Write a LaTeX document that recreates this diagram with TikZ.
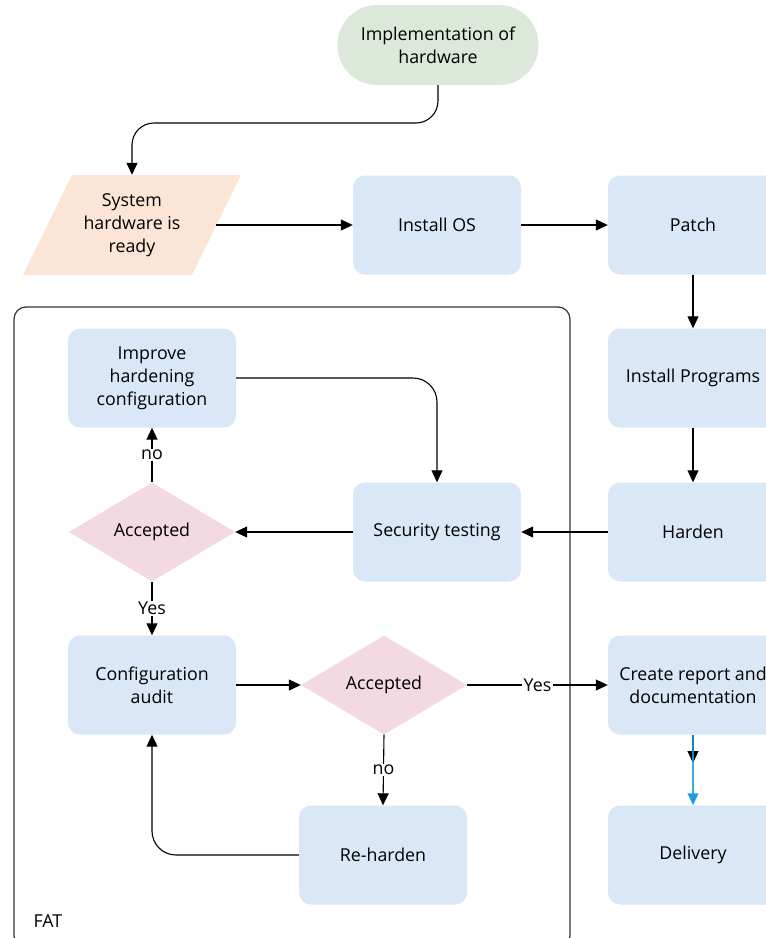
\documentclass[tikz,border=0pt]{standalone}
\usepackage{fontspec}
\setmainfont{Open Sans}
\usetikzlibrary{shapes.geometric,arrows.meta,calc}

\definecolor{boxblue}{HTML}{DAE7F6}
\definecolor{decpink}{HTML}{F3D9E1}
\definecolor{inpeach}{HTML}{FBE5D6}
\definecolor{termgreen}{HTML}{DCE8DA}
\definecolor{flowblue}{HTML}{1E9BE0}
\definecolor{framegray}{HTML}{333333}

\begin{document}
\begin{tikzpicture}[x=1pt,y=-1pt,
  every node/.style={font=\fontsize{17.8}{23}\selectfont, text=black},
  proc/.style={fill=boxblue, rounded corners=12pt, minimum width=168pt,
    minimum height=99pt, align=center, inner sep=0pt},
  wideproc/.style={proc, minimum width=170pt},
  decision/.style={diamond, fill=decpink, minimum width=166pt,
    minimum height=99pt, inner sep=0pt},
  terminal/.style={fill=termgreen, rounded corners=39.5pt, minimum width=201pt,
    minimum height=80pt, align=center, inner sep=0pt},
  iobox/.style={minimum width=168pt, minimum height=100pt, align=center, inner sep=0pt},
  arr/.style={line width=1.1pt, -{Triangle[length=12pt,width=11pt]}},
  lbl/.style={fill=white, inner sep=1.5pt},
]
\clip (0,0) rectangle (766,938);
\fill[white] (0,0) rectangle (766,938);

% FAT group frame
\draw[framegray, line width=1.2pt, rounded corners=12pt] (14,307) rectangle (570,948);
\node[anchor=west] (fat) at (30,921) {FAT};

% nodes
\node[terminal] (start) at (438,45) {Implementation of\\hardware};

\fill[inpeach] (72,175) -- (241,175) -- (192,275) -- (23,275) -- cycle;
\node[iobox] (sys) at (132,225) {System\\hardware is\\ready};

\node[proc] (os) at (437,225) {Install OS};
\node[wideproc] (patch) at (693,225) {Patch};
\node[wideproc] (prog) at (693,378) {Install Programs};
\node[wideproc] (harden) at (693,532) {Harden};
\node[wideproc] (report) at (693,685) {Create report and\\documentation};
\node[wideproc] (deliv) at (693,855) {Delivery};

\node[proc] (sec) at (437,532) {Security testing};
\node[decision] (acc1) at (152,532) {Accepted};
\node[proc] (improve) at (152,378) {Improve\\hardening\\configuration};
\node[proc] (audit) at (152,685) {Configuration\\audit};
\node[decision] (acc2) at (384,685) {Accepted};
\node[proc] (reh) at (383,855) {Re-harden};

% connectors
\coordinate (bend1) at (132,123);
\draw[arr, rounded corners=22pt] (start.south) |- (bend1) -- (sys.north);
\draw[arr] (sys.east) -- (os.west);
\draw[arr] (os.east) -- (patch.west);
\draw[arr] (patch.south) -- (prog.north);
\draw[arr] (prog.south) -- (harden.north);
\draw[arr] (harden.west) -- (sec.east);
\draw[arr] (sec.west) -- (acc1.east);
\draw[arr] (acc1.north) -- node[lbl] {no} (improve.south);
\draw[arr, rounded corners=24pt] (improve.east) -| (sec.north);
\draw[arr] (acc1.south) -- node[lbl] {Yes} (audit.north);
\draw[arr] (audit.east) -- (acc2.west);
\draw[arr] (acc2.east) -- node[lbl] {Yes} (report.west);
\draw[arr] (acc2.south) -- node[lbl] {no} (reh.north);
\draw[arr, rounded corners=24pt] (reh.west) -| (audit.south);

\coordinate (stub) at (693,763);
\draw[arr] (report.south) -- (stub);
\draw[arr, draw=flowblue, draw opacity=0.85] (report.south) -- (deliv.north);
\end{tikzpicture}
\end{document}
